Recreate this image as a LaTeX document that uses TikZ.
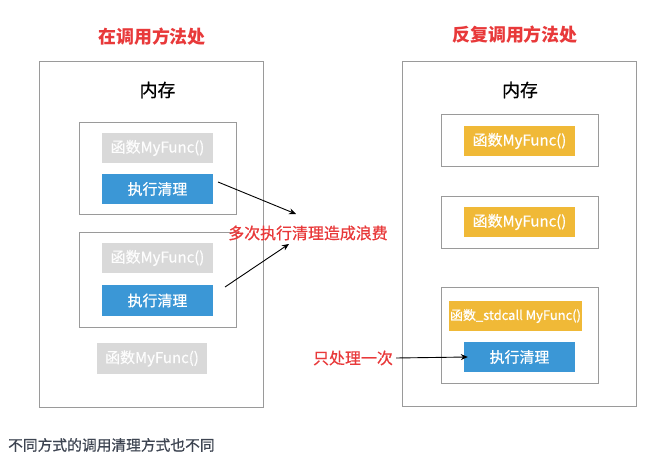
\documentclass[tikz,border=0pt]{standalone}
\usepackage{fontspec}
\setmainfont{Noto Sans CJK SC}
\newfontfamily\medfont{Noto Sans CJK SC}[FakeBold=0.6]
\usetikzlibrary{arrows.meta}
\definecolor{myred}{HTML}{E8393A}
\definecolor{myblue}{HTML}{3B97D6}
\definecolor{myyellow}{HTML}{F0B937}
\definecolor{mygray}{HTML}{D9D9D9}
\definecolor{bordergray}{HTML}{9A9A9A}
\definecolor{slate}{HTML}{3D4451}
\tikzset{
  frame/.style={draw=bordergray, line width=1bp, inner sep=0pt, fill=white},
  fill box/.style={inner sep=0pt, text=white, minimum width=111bp, minimum height=30bp, font=\medfont\fontsize{15}{15}\selectfont},
  graybox/.style={fill box, fill=mygray, text=white!95!mygray},
  bluebox/.style={fill box, fill=myblue},
  yellowbox/.style={fill box, fill=myyellow},
  title/.style={text=myred, font=\bfseries\fontsize{18}{18}\selectfont},
  mem/.style={text=black, font=\medfont\fontsize{18}{18}\selectfont},
  redlabel/.style={text=myred, font=\medfont\fontsize{16}{16}\selectfont, inner sep=1bp},
  arr/.style={-{Stealth[length=7bp,width=6bp]}, line width=0.9bp, black},
}
\begin{document}
\begin{tikzpicture}[x=1bp,y=-1bp]
\useasboundingbox (0,0) rectangle (649,471);
% left side
\node[title] (ltitle) at (152,37) {在调用方法处};
\node[frame, minimum width=223bp, minimum height=345bp] (lout) at (151.5,234.5) {};
\node[mem] (lmem) at (157.5,90) {内存};
\node[frame, minimum width=157bp, minimum height=92bp] (lin1) at (157.5,169) {};
\node[graybox] (lg1) at (157.5,148) {函数MyFunc()};
\node[bluebox] (lb1) at (157.5,189) {执行清理};
\node[frame, minimum width=157bp, minimum height=94bp] (lin2) at (157.5,280) {};
\node[graybox] (lg2) at (157.5,258) {函数MyFunc()};
\node[bluebox, minimum height=31bp] (lb2) at (157.5,300.5) {执行清理};
\node[graybox, minimum width=110bp, minimum height=31bp] (lg3) at (152,358.5) {函数MyFunc()};
% right side
\node[title] (rtitle) at (515,35) {反复调用方法处};
\node[frame, minimum width=234bp, minimum height=344bp] (rout) at (519,234) {};
\node[mem] (rmem) at (520,90) {内存};
\node[frame, minimum width=157bp, minimum height=52bp] (rin1) at (519.5,141) {};
\node[yellowbox] (ry1) at (519.5,141) {函数MyFunc()};
\node[frame, minimum width=157bp, minimum height=52bp] (rin2) at (519.5,223) {};
\node[yellowbox] (ry2) at (519.5,222) {函数MyFunc()};
\node[frame, minimum width=157bp, minimum height=95bp] (rin3) at (519.5,335.5) {};
\node[yellowbox, minimum width=133bp, font=\medfont\fontsize{13}{13}\selectfont] (ry3) at (515.5,316) {函数\_stdcall MyFunc()};
\node[bluebox] (rb3) at (519.5,357) {执行清理};
% labels
\node[redlabel] (waste) at (308,233) {多次执行清理造成浪费};
\node[redlabel] (once) at (353,358) {只处理一次};
\node[anchor=west, text=slate, font=\medfont\fontsize{14.8}{14.8}\selectfont, inner sep=0pt] (note) at (8,445) {不同方式的调用清理方式也不同};
% arrows
\coordinate (s1) at (218,182);
\coordinate (e1) at (296,214);
\coordinate (s2) at (225,287);
\coordinate (e2) at (289,244);
\draw[arr] (s1) -- (e1);
\draw[arr] (s2) -- (e2);
\draw[arr] ([xshift=2bp]once.east) -- ([xshift=4bp]rb3.west);
\end{tikzpicture}
\end{document}
